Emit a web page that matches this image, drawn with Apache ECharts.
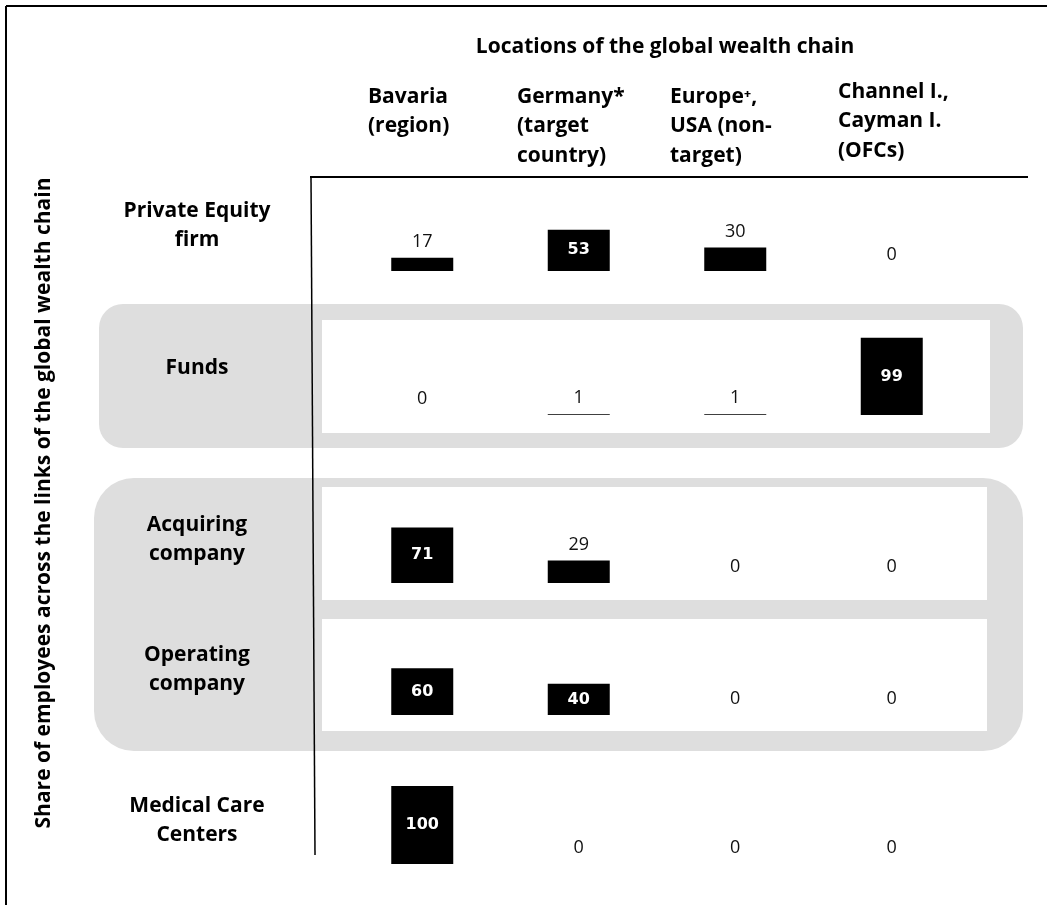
<!DOCTYPE html>
<html><head><meta charset="utf-8">
<script src="https://cdn.jsdelivr.net/npm/echarts@6/dist/echarts.min.js"></script>
<style>html,body{margin:0;padding:0;background:#fff}#c{width:1047px;height:905px}</style>
</head><body><div id="c"></div>
<script>
// ---- data ----
const chartTitle = 'Locations of the global wealth chain';
const axisTitle = 'Share of employees across the links of the global wealth chain';
const columns = ['Bavaria (region)', 'Germany* (target country)', 'Europe⁺, USA (non-target)', 'Channel I., Cayman I. (OFCs)'];
const columnHeaders = ['Bavaria\n(region)', 'Germany*\n(target\ncountry)', 'Europe⁺,\nUSA (non-\ntarget)', 'Channel I.,\nCayman I.\n(OFCs)'];
const rows = ['Private Equity\nfirm', 'Funds', 'Acquiring\ncompany', 'Operating\ncompany', 'Medical Care\nCenters'];
const privateEquity = [17, 53, 30, 0];
const funds = [0, 1, 1, 99];
const acquiring = [71, 29, 0, 0];
const operating = [60, 40, 0, 0];
const medical = [100, 0, 0, 0];
const rowValues = [privateEquity, funds, acquiring, operating, medical];
const insideThreshold = 40;

// ---- layout ----
const FONT = '"Open Sans"';
const TEXT_FONT = 'bold 21px ' + FONT;
const baselines = [271, 415, 583, 715, 864];
const rowHeight = 78;
const rowLabelY = [211, 368, 525, 655, 806];
const colHeaderX = [368, 517, 670, 838];
const colHeaderY = [97, 97, 97, 92];
const LH = 29.5;
const GRAY = '#dedede';

const chart = echarts.init(document.getElementById('c'), null, {renderer: 'canvas'});

const grids = [], xAxes = [], yAxes = [], series = [];
rowValues.forEach((vals, i) => {
  grids.push({left: 344, width: 626, top: baselines[i] - rowHeight, height: rowHeight, containLabel: false});
  xAxes.push({gridIndex: i, type: 'category', data: columns, show: false});
  yAxes.push({gridIndex: i, type: 'value', min: 0, max: 100, show: false});
  series.push({
    type: 'bar', xAxisIndex: i, yAxisIndex: i, barWidth: 62, silent: true,
    itemStyle: {color: '#000'},
    data: vals.map(v => ({
      value: v,
      label: v >= insideThreshold
        ? {show: true, position: 'inside', color: '#fff', fontFamily: 'DejaVu Sans', fontWeight: 'bold', fontSize: 16}
        : {show: true, position: 'top', distance: 7, color: '#111', fontFamily: 'Open Sans', fontSize: 18}
    }))
  });
});

const graphic = [];
// frame lines
graphic.push({type: 'line', shape: {x1: 6, y1: 6, x2: 1047, y2: 6}, style: {stroke: '#000', lineWidth: 2}});
graphic.push({type: 'line', shape: {x1: 6, y1: 6, x2: 6, y2: 905}, style: {stroke: '#000', lineWidth: 2}});
// grouping boxes
graphic.push({type: 'rect', shape: {x: 99, y: 304, width: 924, height: 144, r: 24}, style: {fill: GRAY}});
graphic.push({type: 'rect', shape: {x: 322, y: 320, width: 668, height: 113}, style: {fill: '#fff'}});
graphic.push({type: 'rect', shape: {x: 94, y: 478, width: 929, height: 273, r: 40}, style: {fill: GRAY}});
graphic.push({type: 'rect', shape: {x: 322, y: 487, width: 665, height: 113}, style: {fill: '#fff'}});
graphic.push({type: 'rect', shape: {x: 322, y: 619, width: 665, height: 112}, style: {fill: '#fff'}});
// axis lines
graphic.push({type: 'line', shape: {x1: 310, y1: 177, x2: 1028, y2: 177}, style: {stroke: '#000', lineWidth: 2}});
graphic.push({type: 'line', shape: {x1: 311, y1: 177, x2: 315, y2: 855}, style: {stroke: '#000', lineWidth: 1.5}});
// title
graphic.push({type: 'text', x: 665, y: 47, style: {text: chartTitle, font: TEXT_FONT, fill: '#000', textAlign: 'center', textVerticalAlign: 'middle'}});
// column headers
columnHeaders.forEach((t, i) => {
  graphic.push({type: 'text', x: colHeaderX[i], y: colHeaderY[i] - LH / 2, style: {text: t, font: TEXT_FONT, lineHeight: LH, fill: '#000', textAlign: 'left', textVerticalAlign: 'top'}});
});
// row labels
rows.forEach((t, i) => {
  graphic.push({type: 'text', x: 197, y: rowLabelY[i] - LH / 2, style: {text: t, font: TEXT_FONT, lineHeight: LH, fill: '#000', textAlign: 'center', textVerticalAlign: 'top'}});
});
// y axis title
graphic.push({type: 'text', x: 44, y: 503, rotation: Math.PI / 2, style: {text: axisTitle, font: TEXT_FONT, fill: '#000', textAlign: 'center', textVerticalAlign: 'middle'}});

chart.setOption({
  animation: false,
  backgroundColor: '#fff',
  grid: grids, xAxis: xAxes, yAxis: yAxes, series: series,
  graphic: graphic
});
</script></body></html>
